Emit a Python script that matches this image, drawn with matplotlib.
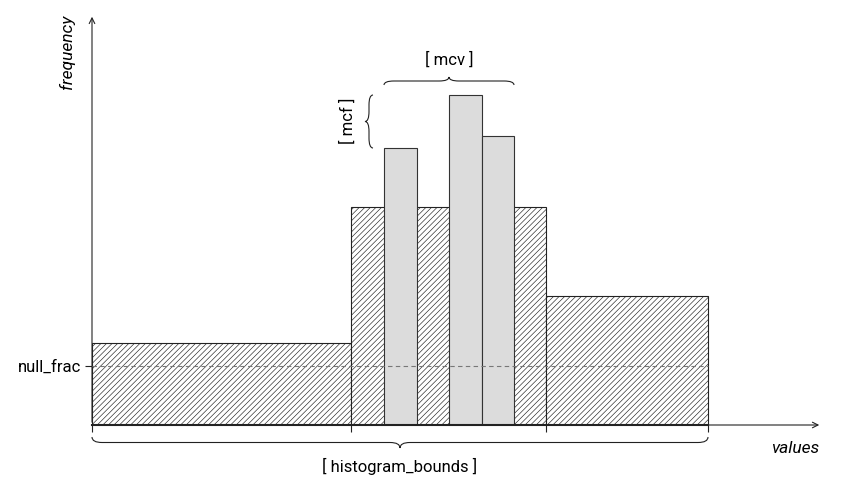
import matplotlib
matplotlib.use("Agg")
import matplotlib.pyplot as plt
from matplotlib.path import Path
from matplotlib.patches import PathPatch
import numpy as np

plt.rcParams['font.family'] = ['Roboto', 'DejaVu Sans']
plt.rcParams['hatch.linewidth'] = 0.45
plt.rcParams['hatch.color'] = '#a8a8a8'

# histogram bins (equal-depth) and most common values
bin_edges = [0, 25.9, 45.4, 61.6]
bin_heights = [8.2, 21.8, 12.9]
mcv_left = [29.2, 35.7, 38.95]
mcv_width = 3.25
mcv_freq = [27.7, 33.0, 28.9]
null_frac = 5.9

x_max = 73.0
y_max = 41.1


def brace(ax, s0, s1, base, h, r, orient='up'):
    # curly brace along s from s0 to s1, tip at base + h (h may be negative)
    L = s1 - s0
    m = h / 2
    pts = [(0, 0), (0, m), (r, m), (L / 2 - r, m), (L / 2, m), (L / 2, h),
           (L / 2, m), (L / 2 + r, m), (L - r, m), (L, m), (L, 0)]
    codes = [Path.MOVETO, Path.CURVE3, Path.CURVE3, Path.LINETO, Path.CURVE3, Path.CURVE3,
             Path.CURVE3, Path.CURVE3, Path.LINETO, Path.CURVE3, Path.CURVE3]
    if orient == 'horizontal':
        verts = [(s0 + a, base + b) for a, b in pts]
    else:
        verts = [(base + b, s0 + a) for a, b in pts]
    ax.add_patch(PathPatch(Path(verts, codes), fill=False, lw=0.8,
                           color='#222222', clip_on=False))


fig = plt.figure(figsize=(8.41, 4.94), dpi=100)
ax = fig.add_axes([92 / 841, 69 / 494, 730 / 841, 411 / 494])
ax.set_xlim(0, x_max)
ax.set_ylim(0, y_max)
for s in ax.spines.values():
    s.set_visible(False)

# hatched histogram bins
for i in range(len(bin_heights)):
    ax.bar(bin_edges[i], bin_heights[i], width=bin_edges[i + 1] - bin_edges[i], align='edge',
           facecolor='white', edgecolor='#222222', hatch='//////', linewidth=0.8, zorder=2)

# mcv bars
ax.bar(mcv_left, mcv_freq, width=mcv_width, align='edge', facecolor='#dcdcdc',
       edgecolor='#333333', linewidth=0.8, zorder=3)

# null_frac dashed line
ax.plot([0, bin_edges[-1]], [null_frac, null_frac], ls=(0, (4, 3)), color='#777777', lw=0.8, zorder=4)

# axes with arrows
ax.annotate('', xy=(x_max, 0), xytext=(0, 0),
            arrowprops=dict(arrowstyle='->', lw=0.8, color='#222222'), annotation_clip=False)
ax.annotate('', xy=(0, y_max), xytext=(0, 0),
            arrowprops=dict(arrowstyle='->', lw=0.8, color='#222222'), annotation_clip=False)
ax.plot([0, bin_edges[-1]], [0, 0], color='#222222', lw=1.5, zorder=5, clip_on=False)

ax.set_xticks(bin_edges)
ax.set_xticklabels([])
ax.set_yticks([null_frac])
ax.set_yticklabels(['null_frac'], fontsize=12)
ax.tick_params(axis='both', direction='out', length=5, width=0.8, color='#222222', pad=3)

ax.text(-2.5, 37.3, 'frequency', rotation=90, style='italic', fontsize=12.5,
        ha='center', va='center')
ax.text(70.3, -2.3, 'values', style='italic', fontsize=12.5, ha='center', va='center')

# braces
brace(ax, bin_edges[0], bin_edges[-1], -1.2, -1.1, 1.0, orient='horizontal')
ax.text(30.8, -4.1, '[ histogram_bounds ]', fontsize=12, ha='center', va='center')

brace(ax, mcv_left[0], mcv_left[-1] + mcv_width, 34.0, 0.8, 1.0, orient='horizontal')
ax.text(35.7, 36.5, '[ mcv ]', fontsize=12, ha='center', va='center')

brace(ax, mcv_freq[0], max(mcv_freq), 28.1, -0.8, 1.0, orient='vertical')
ax.text(25.6, 30.4, '[ mcf ]', rotation=90, fontsize=12, ha='center', va='center')

plt.savefig('out.png', dpi=100)
